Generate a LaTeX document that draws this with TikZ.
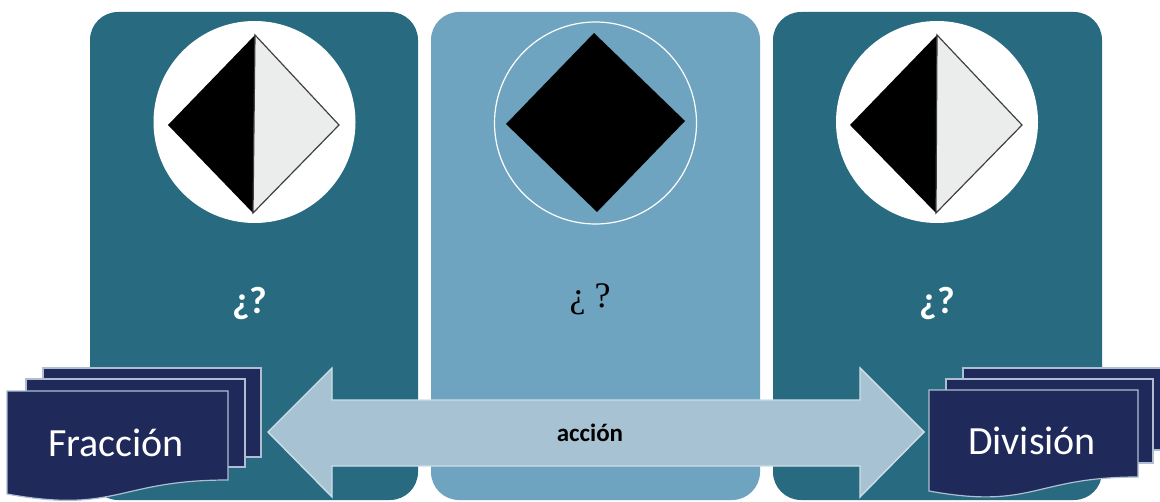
\documentclass[tikz,border=0pt]{standalone}
\usepackage{fontspec}
\setmainfont{Carlito}
\newfontfamily\seriffont{Liberation Serif}
\definecolor{paneldark}{RGB}{40,106,128}
\definecolor{panellight}{RGB}{110,164,191}
\definecolor{arrowfill}{RGB}{167,195,211}
\definecolor{arrowline}{RGB}{205,222,232}
\definecolor{navy}{RGB}{31,42,90}
\definecolor{sheetline}{RGB}{175,190,210}
\definecolor{halfgray}{RGB}{235,237,237}
\begin{document}
\begin{tikzpicture}[x=0.5pt,y=-0.5pt,
  panel/.style={rounded corners=14pt},
  sheet/.style={fill=navy,draw=sheetline,line width=0.6pt},
  doclabel/.style={text=white,font=\fontsize{20}{24}\selectfont},
  qmark/.style={text=white,font=\bfseries\fontsize{19}{22}\selectfont}]
\useasboundingbox (0,0) rectangle (1160,502);
\fill[white] (0,0) rectangle (1160,502);
% panels
\fill[paneldark,panel] (90,12) rectangle (418,500);
\fill[panellight,panel] (431,12) rectangle (760,500);
\fill[paneldark,panel] (773,12) rectangle (1102,500);
% left symbol
\node[circle,fill=white,minimum size=101pt,inner sep=0pt] (c1) at (254.5,122) {};
\fill[black] (255,35) -- (168,125) -- (253,213) -- cycle;
\filldraw[fill=halfgray,draw=black!75,line width=0.6pt] (255,35) -- (339,125) -- (253,213) -- cycle;
% middle symbol
\node[circle,draw=white,line width=0.6pt,minimum size=101pt,inner sep=0pt] (c2) at (595.5,123) {};
\fill[black] (594,33) -- (685,121) -- (597,212) -- (506,124) -- cycle;
% right symbol
\node[circle,fill=white,minimum size=101pt,inner sep=0pt] (c3) at (937,122) {};
\fill[black] (937,35) -- (850,125) -- (936,213) -- cycle;
\filldraw[fill=halfgray,draw=black!75,line width=0.6pt] (937,35) -- (1022,125) -- (936,213) -- cycle;
% question marks
\node[qmark] (q1) at (250,303) {¿?};
\node[text=black,font=\seriffont\fontsize{18}{22}\selectfont] (q2) at (590,299) {¿ ?};
\node[qmark] (q3) at (937,303) {¿?};
% arrow
\coordinate (lt) at (268,432);
\coordinate (rt) at (924,432);
\filldraw[fill=arrowfill,draw=arrowline,line width=0.7pt]
  (lt) -- (332,368) -- (332,400) -- (860,400) -- (860,368) -- (rt)
  -- (860,497) -- (860,466) -- (332,466) -- (332,497) -- cycle;
\node[font=\bfseries\fontsize{12.5}{15}\selectfont] (act) at (590,433) {acción};
% left document stack
\draw[sheet] (43,368) rectangle (261,457);
\draw[sheet] (26,379) rectangle (245,467);
\draw[sheet] (7,391) -- (228,391) -- (228,480) .. controls (117.5,480) and (117.5,514) .. (7,494) -- cycle;
\node[doclabel] (frac) at (116,443) {Fracción};
% right document stack
\draw[sheet] (963,368) rectangle (1175,450);
\draw[sheet] (946,379) rectangle (1153,463);
\draw[sheet] (929,390) -- (1138,390) -- (1138,477) .. controls (1033.5,477) and (1033.5,510) .. (929,491) -- cycle;
\node[doclabel] (div) at (1032,441) {División};
\end{tikzpicture}
\end{document}
